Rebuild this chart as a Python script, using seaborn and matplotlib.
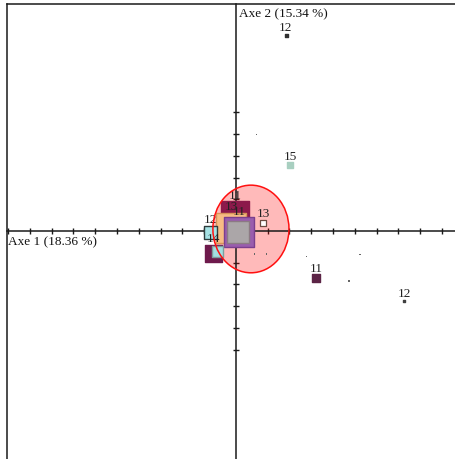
import numpy as np
import pandas as pd
import matplotlib
matplotlib.use("Agg")
import matplotlib.pyplot as plt
from matplotlib.patches import Ellipse
import seaborn as sns

# Modalities projected on the first factorial plane
labels = ["11", "13", "11", "", "12", "14", "", "12", "15", "11", "12"]
axe1 = [-0.03, -0.22, 0.16, 0.09, -1.17, -1.03, -0.85, 2.29, 2.48, 3.67, 7.71]
axe2 = [0.72, 0.14, -0.07, -0.07, -0.07, -1.01, -0.92, 8.99, 3.03, -2.16, -3.21]
poids = [78.4, 90.0, 90.0, 52.9, 16.9, 28.9, 12.1, 0.9, 2.5, 6.4, 0.4]
fill = ["#8C194B", "#F7BC84", "#9A5DAE", "#ABA6A8", "#A6E2E4",
        "#6E1A4C", "#A2E0E2", "#303030", "#A8CFC0", "#5C2446", "#404040"]
edge = ["#8C194B", "#D8955A", "#7B3F8E", "#8C7A84", "#2E3C3C",
        "#6E1A4C", "#7E9C9C", "#303030", "#A8CFC0", "#5C2446", "#404040"]

# Open square (13) near the origin
pt13_x, pt13_y, pt13_poids = [1.24], [0.37], [3.6]

# Low-weight modalities
mini_x = [0.95, 3.24, 5.69, 5.18, 0.85, 1.4]
mini_y = [4.42, -1.18, -1.09, -2.29, -1.05, -1.05]

# Confidence ellipse of the central group
ell_cx, ell_cy, ell_w, ell_h = 0.69, 0.09, 3.49, 4.02

axis1_title = "Axe 1 (18.36 %)"
axis2_title = "Axe 2 (15.34 %)"

sns.set_style("white")
plt.rcParams["font.family"] = ["Liberation Serif", "DejaVu Serif"]

unit = 21.8
xlim = (-10.5, 10.5)
ylim = (-10.6, 10.41)
W = (xlim[1] - xlim[0]) * unit
H = (ylim[1] - ylim[0]) * unit
fig = plt.figure(figsize=(4.56, 4.60), dpi=100)
ax = fig.add_axes([7 / 456, 1 - (5 + H) / 460, W / 456, H / 460])
ax.set_xlim(*xlim)
ax.set_ylim(*ylim)

px2pt = 72 / 100.0


def side_px(p):
    # square side in pixels from the modality weight
    return max(np.sqrt(p) * np.sqrt(10), 2)


# Ellipse fill sits under the squares, its outline on top
ax.add_patch(Ellipse((ell_cx, ell_cy), ell_w, ell_h, facecolor=(1, 0, 0, 0.27),
                     edgecolor="none", zorder=2))
ax.add_patch(Ellipse((ell_cx, ell_cy), ell_w, ell_h, facecolor="none",
                     edgecolor="#FF1010", linewidth=1.1, zorder=8))

df = pd.DataFrame({"axe1": axe1, "axe2": axe2, "poids": poids,
                   "fill": fill, "edge": edge, "label": labels})

z = 3.0
for i, r in df.iterrows():
    side = side_px(r["poids"])
    sns.scatterplot(x=[r["axe1"]], y=[r["axe2"]], marker="s", s=(side * px2pt) ** 2,
                    color=r["fill"], edgecolor=r["edge"], linewidth=1.0,
                    ax=ax, legend=False, zorder=z)
    z += 0.01
    if r["label"]:
        ax.annotate(r["label"], (r["axe1"], r["axe2"]),
                    xytext=(0, (side / 2 + 0.5) * px2pt),
                    textcoords="offset points", ha="center", va="bottom",
                    fontsize=9.5, color="#222222", zorder=z)
        z += 0.01

side13 = side_px(pt13_poids[0])
sns.scatterplot(x=pt13_x, y=pt13_y, marker="s", s=(side13 * px2pt) ** 2, color="white",
                edgecolor="#6A4A40", linewidth=0.9, ax=ax, legend=False, zorder=z)
ax.annotate("13", (pt13_x[0], pt13_y[0]), xytext=(0, (side13 / 2 + 1) * px2pt),
            textcoords="offset points", ha="center", va="bottom",
            fontsize=9.5, color="#222222", zorder=z + 0.01)

sns.scatterplot(x=mini_x, y=mini_y, marker="s", s=1.2, color="#666666",
                edgecolor="none", ax=ax, legend=False, zorder=z)

# Axis titles
ax.text(xlim[0] + 0.04, -0.2, axis1_title, ha="left", va="top",
        fontsize=9.5, color="#111111", zorder=9)
ax.text(0.15, 10.25, axis2_title, ha="left", va="top",
        fontsize=9.5, color="#111111", zorder=9)

# Axes crossing at the origin, frame on the left and top
ax.spines["left"].set_position(("data", 0))
ax.spines["bottom"].set_position(("data", 0))
ax.spines["right"].set_position(("axes", 0))
for s in ax.spines.values():
    s.set_color("#1a1a1a")
    s.set_linewidth(1.1)
ax.xaxis.set_ticks_position("bottom")
ax.yaxis.set_ticks_position("left")
xt = [s * (0.45 + k) for k in range(11) for s in (-1, 1)]
yt = [s * (0.45 + k) for k in range(6) for s in (-1, 1)]
ax.set_xticks(sorted(xt))
ax.set_yticks(sorted(yt))
ax.tick_params(direction="inout", length=5, width=1, color="#1a1a1a",
               labelbottom=False, labelleft=False)

fig.savefig("out.png", dpi=100)
